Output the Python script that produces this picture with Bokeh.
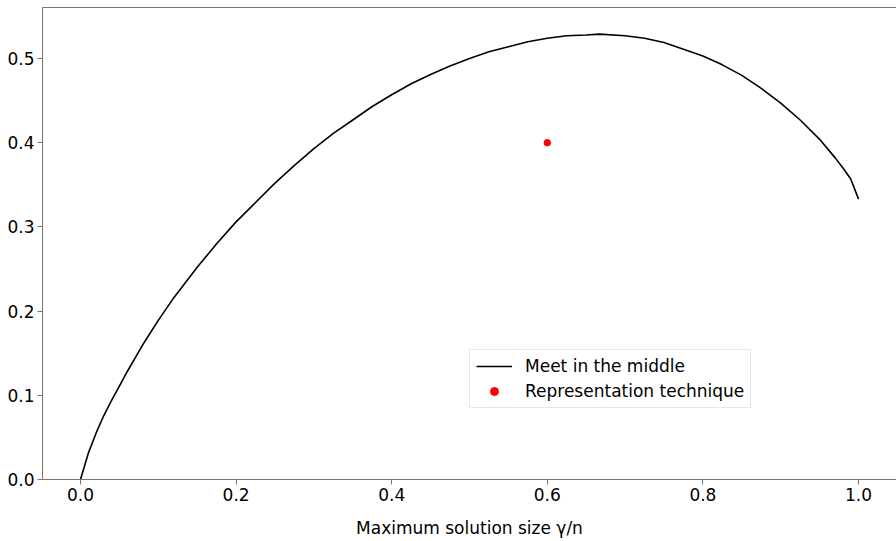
from bokeh.plotting import figure
from bokeh.models import Range1d, FixedTicker, Legend, LegendItem, ColumnDataSource, LinearAxis
from bokeh.embed import file_html
from bokeh.resources import INLINE

# Meet in the middle curve
mim_x = [0.0, 0.01, 0.02, 0.03, 0.04, 0.05, 0.06, 0.08, 0.10, 0.12, 0.15, 0.175, 0.20,
         0.225, 0.25, 0.275, 0.30, 0.325, 0.35, 0.375, 0.40, 0.425, 0.45, 0.475, 0.50,
         0.525, 0.55, 0.575, 0.60, 0.625, 0.65, 0.667, 0.70, 0.725, 0.75, 0.775, 0.80,
         0.825, 0.85, 0.875, 0.90, 0.925, 0.95, 0.97, 0.98, 0.99, 1.0]
mim_y = [0.0, 0.031, 0.055, 0.076, 0.094, 0.111, 0.128, 0.160, 0.189, 0.216, 0.252, 0.280, 0.306,
         0.329, 0.352, 0.373, 0.393, 0.411, 0.427, 0.443, 0.457, 0.470, 0.481, 0.491, 0.500,
         0.508, 0.514, 0.520, 0.524, 0.527, 0.528, 0.529, 0.527, 0.524, 0.519, 0.511, 0.503,
         0.4925, 0.480, 0.4645, 0.447, 0.427, 0.404, 0.382, 0.370, 0.357, 0.333]

# Representation technique point
rep_x = [0.6]
rep_y = [0.4]

x_ticks = [0.0, 0.2, 0.4, 0.6, 0.8, 1.0]
y_ticks = [0.0, 0.1, 0.2, 0.3, 0.4, 0.5]
x_label = "Maximum solution size γ/n"

FONT = "DejaVu Sans"
FS = "17px"
SPINE = "#777777"

p = figure(width=896, height=541, output_backend="svg", toolbar_location=None,
           x_range=Range1d(-0.0488, 1.0488), y_range=Range1d(0.0, 0.5606),
           min_border_left=42, min_border_right=0, min_border_top=7, min_border_bottom=62)
p.background_fill_color = "white"
p.border_fill_color = "white"
p.outline_line_color = None
p.xgrid.visible = False
p.ygrid.visible = False

for ax in (p.xaxis[0], p.yaxis[0]):
    ax.axis_line_color = SPINE
    ax.axis_line_width = 1
    ax.major_tick_line_color = SPINE
    ax.major_tick_out = 5
    ax.major_tick_in = 0
    ax.minor_tick_line_color = None
    ax.major_label_text_font = FONT
    ax.major_label_text_font_size = FS
    ax.major_label_text_color = "black"
    ax.major_label_standoff = 3

p.xaxis.ticker = FixedTicker(ticks=x_ticks)
p.yaxis.ticker = FixedTicker(ticks=y_ticks)
p.xaxis.major_label_overrides = {t: f"{t:.1f}" for t in x_ticks}
p.yaxis.major_label_overrides = {t: f"{t:.1f}" for t in y_ticks}

p.xaxis.axis_label = x_label
p.xaxis.axis_label_text_font = FONT
p.xaxis.axis_label_text_font_size = FS
p.xaxis.axis_label_text_font_style = "normal"
p.xaxis.axis_label_text_color = "black"
p.xaxis.axis_label_standoff = 14

# top spine only (right spine falls outside the window in the reference)
top = LinearAxis(ticker=FixedTicker(ticks=[]), axis_line_color=SPINE, axis_line_width=1,
                 major_tick_out=0, major_tick_in=0, minor_tick_out=0, minor_tick_in=0,
                 major_label_standoff=0, axis_label_standoff=0,
                 major_label_text_font_size="0px")
p.add_layout(top, "above")

src_line = ColumnDataSource(data=dict(x=mim_x, y=mim_y))
src_pt = ColumnDataSource(data=dict(x=rep_x, y=rep_y))

r_line = p.line("x", "y", source=src_line, line_color="black", line_width=1.6)
r_pt = p.scatter("x", "y", source=src_pt, marker="circle", size=6.5,
                 fill_color="red", line_color="red")

legend = Legend(items=[LegendItem(label="Meet in the middle", renderers=[r_line]),
                       LegendItem(label="Representation technique", renderers=[r_pt])],
                location=(427, 71))
legend.label_text_font = FONT
legend.label_text_font_size = FS
legend.label_text_color = "black"
legend.glyph_width = 36
legend.glyph_height = 20
legend.label_height = 20
legend.label_standoff = 13
legend.spacing = 5
legend.padding = 6
legend.margin = 0
legend.border_line_color = "#d0d0d0"
legend.border_line_width = 1
legend.background_fill_color = "white"
legend.background_fill_alpha = 0.8
p.add_layout(legend, "center")

open("out.html", "w").write(file_html(p, INLINE))
